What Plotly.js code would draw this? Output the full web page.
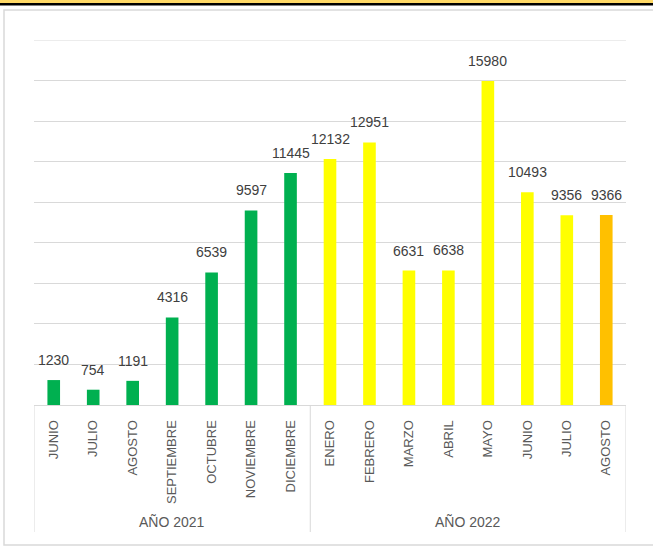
<!DOCTYPE html>
<html>
<head>
<meta charset="utf-8">
<script src="https://cdn.plot.ly/plotly-3.0.1.min.js"></script>
<style>html,body{margin:0;padding:0;background:#fff;}#chart{width:653px;height:548px;}</style>
</head>
<body>
<div id="chart"></div>
<script>
var years = ["AÑO 2021", "AÑO 2022"];
var months2021 = ["JUNIO", "JULIO", "AGOSTO", "SEPTIEMBRE", "OCTUBRE", "NOVIEMBRE", "DICIEMBRE"];
var months2022 = ["ENERO", "FEBRERO", "MARZO", "ABRIL", "MAYO", "JUNIO", "JULIO", "AGOSTO"];
var values2021 = [1230, 754, 1191, 4316, 6539, 9597, 11445];
var values2022 = [12132, 12951, 6631, 6638, 15980, 10493, 9356, 9366];
var colors2021 = ["#00B050", "#00B050", "#00B050", "#00B050", "#00B050", "#00B050", "#00B050"];
var colors2022 = ["#FFFF00", "#FFFF00", "#FFFF00", "#FFFF00", "#FFFF00", "#FFFF00", "#FFFF00", "#FFC000"];
var yMax = 18000;
var yStep = 2000;

var monthLevel = months2021.concat(months2022);
var values = values2021.concat(values2022);
var colors = colors2021.concat(colors2022);
var positions = monthLevel.map(function (m, i) { return i; });

var FONT = "Liberation Sans, Arial, sans-serif";

var trace = {
  type: "bar",
  x: positions,
  y: values,
  marker: { color: colors, line: { width: 0 } },
  hoverinfo: "skip"
};

var annotations = values.map(function (v, i) {
  return {
    x: positions[i], y: v, xref: "x", yref: "y",
    text: String(v), showarrow: false,
    yanchor: "bottom", yshift: 10,
    font: { family: FONT, size: 14, color: "#404040" }
  };
});

function py(p) { return (405 - p) / 365; }
function px(p) { return (p - 34) / 592; }

// group labels and dividers
var groups = [
  { name: years[0], start: 0, end: months2021.length - 1 },
  { name: years[1], start: months2021.length, end: monthLevel.length - 1 }
];
groups.forEach(function (g) {
  annotations.push({
    x: (g.start + g.end) / 2, y: py(522), xref: "x", yref: "paper",
    text: g.name, showarrow: false, yanchor: "middle",
    font: { family: FONT, size: 14, color: "#595959" }
  });
});

var shapes = [
  { type: "rect", xref: "paper", yref: "paper", x0: px(4), x1: px(700), y0: py(545), y1: py(10),
    line: { color: "#D9D9D9", width: 1.5 }, fillcolor: "rgba(0,0,0,0)", layer: "below" },
  { type: "rect", xref: "paper", yref: "paper", x0: px(-5), x1: px(700), y0: py(3), y1: py(-2),
    line: { width: 0 }, fillcolor: "#FFD966" },
  { type: "rect", xref: "paper", yref: "paper", x0: px(-5), x1: px(700), y0: py(5.5), y1: py(3),
    line: { width: 0 }, fillcolor: "#000000" },
  { type: "line", xref: "paper", yref: "y", x0: 0, x1: 1, y0: yMax, y1: yMax,
    line: { color: "#D9D9D9", width: 1 }, layer: "below" }
];
var dividerPos = [groups[0].start - 0.5, groups[1].start - 0.5, groups[1].end + 0.5];
dividerPos.forEach(function (d) {
  shapes.push({ type: "line", xref: "x", yref: "paper", x0: d, x1: d, y0: 0, y1: py(532),
    line: { color: "#D9D9D9", width: 1 } });
});

var layout = {
  width: 653, height: 548,
  margin: { l: 34, r: 27, t: 40, b: 143 },
  paper_bgcolor: "#ffffff", plot_bgcolor: "#ffffff",
  showlegend: false,
  bargap: 0.68,
  font: { family: FONT, color: "#595959" },
  xaxis: {
    range: [-0.5, monthLevel.length - 0.5],
    tickmode: "array", tickvals: positions, ticktext: monthLevel,
    tickangle: -90, ticklabelstandoff: 9,
    tickfont: { family: FONT, size: 13, color: "#595959" },
    showline: true, linecolor: "#D9D9D9", linewidth: 1,
    ticks: "", showgrid: false, zeroline: false, fixedrange: true
  },
  yaxis: {
    range: [0, yMax], tickmode: "linear", tick0: 0, dtick: yStep,
    showticklabels: false, ticks: "",
    showgrid: true, gridcolor: "#D9D9D9", gridwidth: 1,
    zeroline: false, showline: false, fixedrange: true
  },
  annotations: annotations,
  shapes: shapes
};

Plotly.newPlot("chart", [trace], layout, { displayModeBar: false, staticPlot: true });
</script>
</body>
</html>
